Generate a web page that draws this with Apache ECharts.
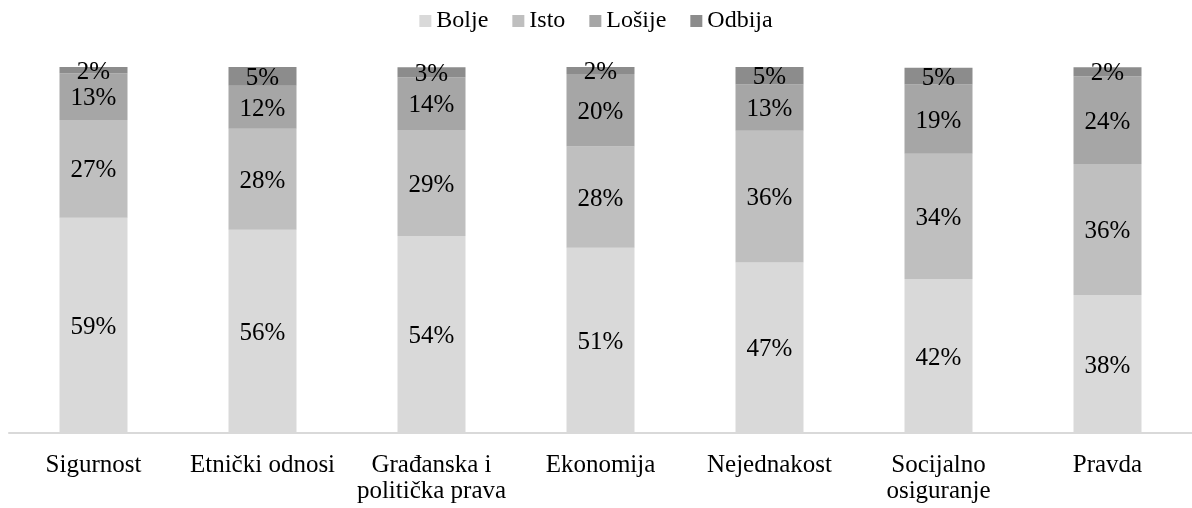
<!DOCTYPE html>
<html>
<head>
<meta charset="utf-8">
<script src="https://cdn.jsdelivr.net/npm/echarts@6/dist/echarts.min.js"></script>
<style>
  html, body { margin: 0; padding: 0; background: #fff; }
  #chart { width: 1192px; height: 508px; }
</style>
</head>
<body>
<div id="chart"></div>
<script>
  // kategorije i vrijednosti (u postocima)
  const categories = ['Sigurnost', 'Etnički odnosi', 'Građanska i\npolitička prava', 'Ekonomija', 'Nejednakost', 'Socijalno\nosiguranje', 'Pravda']
  const seriesNames = ['Bolje', 'Isto', 'Lošije', 'Odbija']
  const bolje = [58.8, 55.5, 53.8, 50.6, 46.6, 42.1, 37.7]
  const isto = [26.7, 27.6, 29.0, 27.7, 36.0, 34.2, 35.8]
  const losije = [12.8, 11.8, 14.4, 19.8, 12.6, 18.9, 24.0]
  const odbija = [1.7, 5.1, 2.7, 1.9, 4.8, 4.6, 2.4]
  const colors = ['#d9d9d9', '#bfbfbf', '#a6a6a6', '#8c8c8c']

  const font = '"Liberation Serif", "DejaVu Serif", serif'
  const chart = echarts.init(document.getElementById('chart'))

  const allData = [bolje, isto, losije, odbija]
  const series = allData.map((data, i) => ({
    name: seriesNames[i],
    type: 'bar',
    stack: 'total',
    barWidth: 68,
    data: data,
    itemStyle: { color: colors[i] },
    label: {
      show: true,
      position: 'inside',
      offset: [0, 2],
      color: '#000',
      fontFamily: font,
      fontSize: 25,
      formatter: (p) => Math.round(p.value) + '%'
    }
  }))

  chart.setOption({
    animation: false,
    legend: {
      top: 4,
      left: 'center',
      itemWidth: 12,
      itemHeight: 12,
      itemGap: 24,
      icon: 'rect',
      textStyle: { fontFamily: font, fontSize: 24, color: '#000' },
      data: seriesNames
    },
    grid: {
      top: 67,
      bottom: 75,
      left: 9,
      right: -11
    },
    xAxis: {
      type: 'category',
      data: categories,
      axisLine: { lineStyle: { color: '#d9d9d9', width: 2 } },
      axisTick: { show: false },
      axisLabel: {
        margin: 19,
        color: '#000',
        fontFamily: font,
        fontSize: 25,
        lineHeight: 26,
        interval: 0
      }
    },
    yAxis: {
      type: 'value',
      min: 0,
      max: 100,
      show: false,
      splitLine: { show: false }
    },
    series: series
  })
</script>
</body>
</html>
